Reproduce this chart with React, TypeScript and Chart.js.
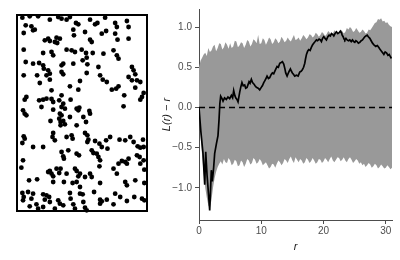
import React, { useEffect, useRef } from 'react';
import { Chart, registerables } from 'chart.js';

Chart.register(...registerables);

const FONT = "'Liberation Sans', Arial, Helvetica, sans-serif";

// ---- Point pattern (window units) ----
const WIN_X = [52, 440];
const WIN_Y = [44, 632];
const ptX = [
  68, 90, 115, 150, 175, 185, 200, 210, 228, 235, 270, 285, 292, 315, 345, 380, 385, 350, 78, 95,
  100, 72, 105, 220, 255, 305, 318, 345, 145, 150, 170, 180, 165, 172, 135, 270, 275, 222, 352, 385,
  72, 130, 155, 160, 200, 215, 225, 245, 258, 278, 310, 340, 350, 355, 260, 248, 78, 100, 118, 130,
  132, 145, 150, 190, 185, 185, 190, 220, 262, 295, 300, 308, 320, 395, 400, 405, 72, 112, 140, 150,
  120, 240, 210, 235, 260, 385, 395, 410, 420, 405, 355, 335, 348, 155, 372, 80, 75, 118, 130, 140,
  155, 160, 185, 178, 190, 185, 195, 212, 230, 235, 238, 268, 270, 250, 370, 430, 425, 420, 70, 75,
  80, 125, 160, 180, 185, 152, 178, 182, 190, 195, 182, 210, 230, 258, 72, 75, 100, 68, 160, 158,
  165, 200, 215, 218, 255, 262, 265, 262, 285, 298, 305, 322, 330, 318, 358, 375, 390, 400, 412, 420,
  428, 430, 230, 237, 185, 190, 192, 205, 130, 275, 280, 70, 65, 182, 290, 295, 300, 298, 340, 355,
  365, 385, 375, 380, 420, 418, 430, 410, 432, 150, 155, 145, 170, 178, 200, 225, 230, 240, 235, 255,
  270, 275, 88, 112, 160, 160, 192, 218, 240, 230, 300, 350, 375, 380, 405, 432, 68, 72, 70, 85,
  95, 100, 130, 135, 140, 148, 150, 175, 180, 190, 210, 212, 220, 240, 248, 250, 255, 282, 300, 300,
  305, 320, 345, 360, 380, 402, 425, 432, 90, 110, 115, 130, 165, 225, 260, 340,
];
const ptY = [
  52, 48, 48, 58, 50, 55, 58, 50, 68, 72, 58, 72, 68, 52, 68, 62, 80, 80, 75, 78,
  90, 98, 88, 88, 95, 100, 92, 100, 115, 122, 112, 115, 125, 128, 120, 118, 125, 105, 118, 115,
  148, 158, 155, 165, 148, 150, 155, 148, 158, 158, 160, 150, 165, 175, 172, 180, 185, 190, 188, 195,
  205, 210, 220, 190, 195, 215, 222, 190, 192, 200, 225, 238, 245, 200, 210, 222, 225, 225, 225, 238,
  248, 242, 258, 268, 218, 230, 240, 240, 245, 262, 258, 268, 265, 270, 285, 290, 298, 300, 298, 295,
  296, 305, 285, 300, 310, 320, 325, 298, 325, 330, 322, 332, 340, 350, 318, 278, 290, 298, 330, 340,
  345, 320, 328, 340, 345, 362, 355, 365, 362, 372, 375, 350, 375, 365, 408, 415, 440, 428, 398, 410,
  420, 410, 405, 415, 398, 405, 418, 425, 422, 430, 440, 445, 410, 420, 418, 420, 410, 425, 438, 442,
  418, 440, 460, 465, 455, 468, 475, 450, 440, 450, 458, 480, 502, 505, 460, 470, 480, 498, 505, 490,
  482, 475, 485, 490, 490, 470, 480, 465, 508, 512, 520, 515, 505, 518, 520, 505, 512, 520, 528, 530,
  520, 530, 540, 537, 528, 545, 545, 548, 560, 545, 548, 520, 545, 555, 540, 548, 578, 590, 600, 575,
  595, 580, 582, 598, 585, 590, 605, 600, 610, 615, 578, 595, 612, 580, 582, 605, 622, 575, 598, 610,
  603, 598, 580, 590, 602, 590, 595, 600, 618, 612, 625, 620, 625, 625, 630, 612,
];

// ---- L(r) - r ----
const xTicks = [0, 10, 20, 30];
const yTicks = [-1, -0.5, 0, 0.5, 1];

const observed: [number, number][] = [
  [0, 0], [0.3, -0.3], [0.64, -0.57], [0.92, -0.96], [1.08, -0.55], [1.3, -0.85], [1.55, -1.1], [1.72, -1.28],
  [1.98, -0.78], [2.14, -0.92], [2.35, -0.75], [2.52, -0.57], [2.8, -0.45], [3.05, -0.35], [3.21, -0.16], [3.35, 0.05],
  [3.48, 0.14], [3.7, 0.11], [3.86, 0.08], [4.1, 0.12], [4.39, 0.1], [4.65, 0.13], [4.93, 0.11], [5.2, 0.15],
  [5.4, 0.12], [5.57, 0.21], [5.75, 0.15], [5.9, 0.12], [6.1, 0.1], [6.27, 0.07], [6.54, 0.19], [6.7, 0.25],
  [6.9, 0.31], [7.1, 0.27], [7.34, 0.28], [7.5, 0.24], [7.72, 0.25], [8.04, 0.32], [8.2, 0.3], [8.41, 0.35],
  [8.6, 0.31], [8.84, 0.29], [9.0, 0.27], [9.22, 0.25], [9.5, 0.24], [9.75, 0.22], [10.0, 0.25], [10.18, 0.27],
  [10.4, 0.31], [10.56, 0.33], [10.75, 0.36], [10.93, 0.39], [11.15, 0.36], [11.36, 0.37], [11.6, 0.41], [11.79, 0.43],
  [12.0, 0.42], [12.17, 0.45], [12.35, 0.48], [12.54, 0.51], [12.75, 0.5], [12.97, 0.55], [13.2, 0.56], [13.4, 0.57],
  [13.61, 0.54], [13.8, 0.48], [13.93, 0.43], [14.15, 0.39], [14.3, 0.42], [14.47, 0.45], [14.68, 0.48], [14.85, 0.45],
  [15.0, 0.43], [15.2, 0.41], [15.38, 0.39], [15.65, 0.4], [15.92, 0.39], [16.18, 0.44], [16.4, 0.45], [16.6, 0.47],
  [16.8, 0.5], [16.99, 0.55], [17.1, 0.6], [17.26, 0.66], [17.45, 0.7], [17.63, 0.72], [17.85, 0.71], [18.06, 0.75],
  [18.25, 0.78], [18.43, 0.8], [18.65, 0.82], [18.86, 0.84], [19.05, 0.83], [19.29, 0.85], [19.5, 0.84], [19.67, 0.82],
  [19.85, 0.86], [20.04, 0.88], [20.25, 0.86], [20.47, 0.84], [20.7, 0.88], [20.9, 0.9], [21.1, 0.89], [21.28, 0.92],
  [21.45, 0.91], [21.65, 0.89], [21.85, 0.92], [22.08, 0.94], [22.3, 0.92], [22.5, 0.93], [22.7, 0.95], [22.88, 0.93],
  [23.0, 0.9], [23.15, 0.88], [23.3, 0.85], [23.42, 0.84], [23.6, 0.86], [23.79, 0.84], [24.0, 0.83], [24.22, 0.84],
  [24.45, 0.82], [24.65, 0.84], [24.85, 0.82], [25.03, 0.81], [25.2, 0.83], [25.4, 0.82], [25.6, 0.8], [25.83, 0.81],
  [26.05, 0.83], [26.26, 0.84], [26.45, 0.86], [26.63, 0.88], [26.8, 0.89], [27.01, 0.9], [27.2, 0.88], [27.44, 0.86],
  [27.65, 0.83], [27.87, 0.8], [28.1, 0.78], [28.4, 0.76], [28.65, 0.77], [28.94, 0.74], [29.1, 0.72], [29.31, 0.7],
  [29.5, 0.68], [29.69, 0.66], [29.9, 0.69], [30.12, 0.68], [30.35, 0.65], [30.55, 0.66], [30.75, 0.63], [30.92, 0.61],
];

// simulation envelope: [r, lower, upper]
const envelope: [number, number, number][] = [
  [0, 0, 0.5], [0.25, -0.35, 0.58], [0.5, -0.6, 0.62], [0.75, -0.82, 0.66], [1, -1.0, 0.68],
  [1.25, -1.12, 0.64], [1.5, -1.22, 0.74], [1.75, -1.25, 0.69], [2, -1.15, 0.71], [2.25, -1.0, 0.76],
  [2.5, -0.88, 0.78], [2.75, -0.8, 0.7], [3, -0.74, 0.74], [3.25, -0.7, 0.8], [3.5, -0.67, 0.79],
  [3.75, -0.71, 0.72], [4, -0.64, 0.75], [4.25, -0.68, 0.81], [4.5, -0.69, 0.78], [4.75, -0.63, 0.73],
  [5, -0.66, 0.8], [5.25, -0.72, 0.74], [5.5, -0.7, 0.76], [5.75, -0.65, 0.83], [6, -0.67, 0.82],
  [6.25, -0.73, 0.75], [6.5, -0.72, 0.77], [6.75, -0.66, 0.81], [7, -0.68, 0.8], [7.25, -0.74, 0.74],
  [7.5, -0.7, 0.78], [7.75, -0.64, 0.84], [8, -0.66, 0.82], [8.25, -0.71, 0.76], [8.5, -0.69, 0.79],
  [8.75, -0.63, 0.85], [9, -0.65, 0.83], [9.25, -0.7, 0.8], [9.5, -0.68, 0.9], [9.75, -0.64, 0.79],
  [10, -0.67, 0.8], [10.25, -0.72, 0.86], [10.5, -0.7, 0.84], [10.75, -0.68, 0.78], [11, -0.72, 0.82],
  [11.25, -0.76, 0.87], [11.5, -0.74, 0.85], [11.75, -0.7, 0.79], [12, -0.71, 0.81], [12.25, -0.75, 0.86],
  [12.5, -0.7, 0.84], [12.75, -0.66, 0.8], [13, -0.68, 0.82], [13.25, -0.72, 0.88], [13.5, -0.69, 0.85],
  [13.75, -0.64, 0.81], [14, -0.66, 0.83], [14.25, -0.69, 0.87], [14.5, -0.64, 0.84], [14.75, -0.61, 0.82],
  [15, -0.66, 0.86], [15.25, -0.69, 0.9], [15.5, -0.62, 0.84], [15.75, -0.65, 0.85], [16, -0.68, 0.87],
  [16.25, -0.64, 0.83], [16.5, -0.66, 0.86], [16.75, -0.7, 0.9], [17, -0.68, 0.88], [17.25, -0.63, 0.85],
  [17.5, -0.65, 0.87], [17.75, -0.69, 0.91], [18, -0.67, 0.9], [18.25, -0.63, 0.87], [18.5, -0.66, 0.89],
  [18.75, -0.7, 0.93], [19, -0.68, 0.91], [19.25, -0.64, 0.88], [19.5, -0.65, 0.9], [19.75, -0.69, 0.94],
  [20, -0.67, 0.92], [20.25, -0.63, 0.89], [20.5, -0.65, 0.91], [20.75, -0.68, 0.95], [21, -0.64, 0.93],
  [21.25, -0.61, 0.9], [21.5, -0.66, 0.92], [21.75, -0.68, 0.96], [22, -0.65, 0.94], [22.25, -0.62, 0.91],
  [22.5, -0.63, 0.93], [22.75, -0.67, 0.97], [23, -0.65, 0.95], [23.25, -0.62, 0.92], [23.5, -0.66, 0.94],
  [23.75, -0.68, 0.99], [24, -0.64, 0.97], [24.25, -0.62, 1.0], [24.5, -0.65, 0.98], [24.75, -0.69, 0.94],
  [25, -0.67, 0.95], [25.25, -0.64, 0.99], [25.5, -0.66, 0.96], [25.75, -0.7, 0.93], [26, -0.68, 0.94],
  [26.25, -0.72, 0.97], [26.5, -0.7, 0.95], [26.75, -0.74, 0.92], [27, -0.72, 0.93], [27.25, -0.69, 0.97],
  [27.5, -0.71, 0.96], [27.75, -0.75, 0.99], [28, -0.73, 1.02], [28.25, -0.7, 1.05], [28.5, -0.72, 1.06],
  [28.75, -0.76, 1.1], [29, -0.74, 1.09], [29.25, -0.71, 1.11], [29.5, -0.73, 1.07], [29.75, -0.76, 1.08],
  [30, -0.75, 1.05], [30.25, -0.72, 1.06], [30.5, -0.74, 1.03], [30.75, -0.77, 1.01], [31, -0.75, 1.0],
];

const AXIS = '#4d4d4d';
const TICKTXT = '#4d4d4d';

const boxPlugin = {
  id: 'boxBorder',
  afterDraw(chart: any) {
    const { ctx, chartArea } = chart;
    ctx.save();
    ctx.strokeStyle = '#000';
    ctx.lineWidth = 2;
    ctx.strokeRect(chartArea.left, chartArea.top, chartArea.right - chartArea.left, chartArea.bottom - chartArea.top);
    ctx.restore();
  },
};

const fmt = (v: number) => (v < 0 ? '\u2212' + Math.abs(v).toFixed(1) : v.toFixed(1));

export default function App() {
  const leftRef = useRef<HTMLCanvasElement>(null);
  const rightRef = useRef<HTMLCanvasElement>(null);

  useEffect(() => {
    const pts = ptX.map((x, i) => ({ x, y: ptY[i] }));
    const c1 = new Chart(leftRef.current!, {
      type: 'scatter',
      data: {
        datasets: [
          {
            data: pts,
            pointRadius: 2.4,
            pointBackgroundColor: '#000',
            pointBorderWidth: 0,
            borderWidth: 0,
            clip: false as any,
          },
        ],
      },
      options: {
        responsive: false,
        animation: false,
        events: [],
        layout: { padding: { left: 17, top: 15, right: 18, bottom: 19 } },
        plugins: { legend: { display: false }, tooltip: { enabled: false } },
        scales: {
          x: { type: 'linear', display: false, min: WIN_X[0], max: WIN_X[1] },
          y: { type: 'linear', display: false, min: WIN_Y[0], max: WIN_Y[1], reverse: true },
        },
      },
      plugins: [boxPlugin],
    });

    const c2 = new Chart(rightRef.current!, {
      type: 'line',
      data: {
        datasets: [
          {
            data: observed.map(([x, y]) => ({ x, y })),
            borderColor: '#000',
            borderWidth: 1.7,
            pointRadius: 0,
            fill: false,
            order: 0,
            tension: 0,
          },
          {
            data: [{ x: 0, y: 0 }, { x: 31, y: 0 }],
            borderColor: '#000',
            borderWidth: 1.6,
            borderDash: [6, 4],
            pointRadius: 0,
            fill: false,
            order: 1,
          },
          {
            data: envelope.map(([x, lo]) => ({ x, y: lo })),
            borderWidth: 0,
            borderColor: 'rgba(0,0,0,0)',
            pointRadius: 0,
            fill: false,
            order: 3,
          },
          {
            data: envelope.map(([x, , hi]) => ({ x, y: hi })),
            borderWidth: 0,
            borderColor: 'rgba(0,0,0,0)',
            backgroundColor: '#999999',
            pointRadius: 0,
            fill: 2,
            order: 2,
          },
        ],
      },
      options: {
        responsive: false,
        animation: false,
        events: [],
        layout: { padding: { left: 0, right: 8, top: 7, bottom: 0 } },
        plugins: { legend: { display: false }, tooltip: { enabled: false } },
        scales: {
          x: {
            type: 'linear',
            min: 0,
            max: 31,
            afterBuildTicks: (s: any) => {
              s.ticks = xTicks.map((v) => ({ value: v }));
            },
            afterFit: (s: any) => {
              s.height = 40;
            },
            grid: { display: true, drawOnChartArea: false, drawTicks: true, tickLength: 4, color: AXIS, lineWidth: 1 },
            border: { display: true, color: AXIS, width: 1 },
            ticks: {
              color: TICKTXT,
              font: { size: 10, family: FONT },
              padding: 1,
              maxRotation: 0,
              callback: (v: any) => String(v),
            },
            title: {
              display: true,
              text: 'r',
              color: '#1a1a1a',
              font: { size: 11, style: 'italic', family: FONT },
              padding: { top: 0, bottom: 6 },
            },
          },
          y: {
            type: 'linear',
            min: -1.4,
            max: 1.225,
            afterBuildTicks: (s: any) => {
              s.ticks = yTicks.map((v) => ({ value: v }));
            },
            afterFit: (s: any) => {
              s.width = 49;
            },
            grid: { display: true, drawOnChartArea: false, drawTicks: true, tickLength: 4, color: AXIS, lineWidth: 1 },
            border: { display: true, color: AXIS, width: 1 },
            ticks: {
              color: TICKTXT,
              font: { size: 10, family: FONT },
              padding: 3,
              callback: (v: any) => fmt(Number(v)),
            },
            title: {
              display: true,
              text: 'L(r) \u2212 r',
              color: '#1a1a1a',
              font: { size: 11, style: 'italic', family: FONT },
              padding: { top: 10, bottom: 0 },
            },
          },
        },
      },
    });

    return () => {
      c1.destroy();
      c2.destroy();
    };
  }, []);

  return (
    <div style={{ position: 'fixed', left: 0, top: 0, width: 400, height: 260, background: '#fff' }}>
      <canvas
        ref={leftRef}
        width={165}
        height={230}
        style={{ position: 'absolute', left: 0, top: 0, width: 165, height: 230, display: 'block' }}
      />
      <canvas
        ref={rightRef}
        width={250}
        height={260}
        style={{ position: 'absolute', left: 150, top: 0, width: 250, height: 260, display: 'block' }}
      />
    </div>
  );
}
